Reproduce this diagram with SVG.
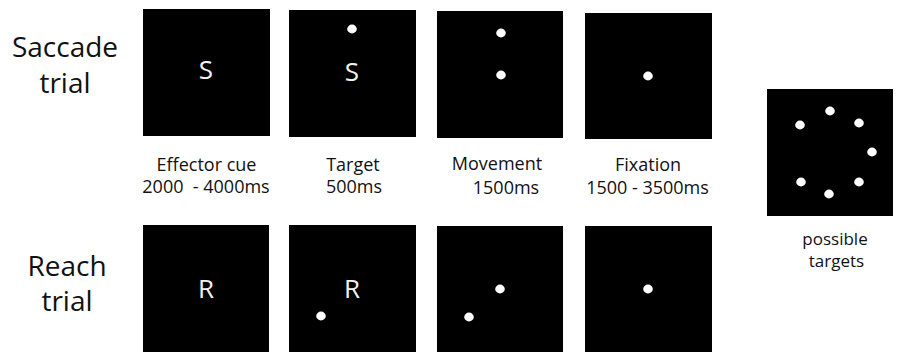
<svg xmlns="http://www.w3.org/2000/svg" width="898" height="352" viewBox="0 0 898 352">
<style>
.bg{fill:#ffffff}
.panel{fill:#000000}
.dot{fill:#ffffff}
.row{font-family:"Open Sans","DejaVu Sans",sans-serif;font-size:28px;fill:#111111;text-anchor:middle}
.lbl{font-family:"Open Sans","DejaVu Sans",sans-serif;font-size:18px;fill:#111111;text-anchor:middle}
.cue{font-family:"Open Sans","DejaVu Sans",sans-serif;font-size:26px;fill:#f2f2f2;text-anchor:middle}
.small{font-family:"Open Sans","DejaVu Sans",sans-serif;font-size:17px;fill:#111111;text-anchor:middle}
</style>
<rect class="bg" x="0" y="0" width="898" height="352"/>
<g id="row-labels">
<text class="row" x="65" y="57">Saccade</text>
<text class="row" x="65" y="93">trial</text>
<text class="row" x="67" y="276">Reach</text>
<text class="row" x="67" y="311">trial</text>
</g>
<g id="saccade-cue">
<rect class="panel" x="143" y="9" width="127" height="127"/>
<text class="cue" x="206" y="79">S</text>
</g>
<g id="saccade-target">
<rect class="panel" x="289" y="10" width="127" height="127"/>
<text class="cue" x="352" y="81">S</text>
<ellipse class="dot" cx="352" cy="29" rx="4.8" ry="4.4"/>
</g>
<g id="saccade-movement">
<rect class="panel" x="437" y="11" width="126" height="127"/>
<ellipse class="dot" cx="501" cy="33" rx="4.8" ry="4.4"/>
<ellipse class="dot" cx="501" cy="75" rx="4.8" ry="4.4"/>
</g>
<g id="saccade-fixation">
<rect class="panel" x="585" y="13" width="127" height="126"/>
<ellipse class="dot" cx="648" cy="76" rx="4.8" ry="4.4"/>
</g>
<g id="phase-labels">
<text class="lbl" x="206.5" y="171">Effector cue</text>
<text class="lbl" x="206" y="193" xml:space="preserve">2000  - 4000ms</text>
<text class="lbl" x="353" y="171">Target</text>
<text class="lbl" x="354" y="193">500ms</text>
<text class="lbl" x="497" y="170">Movement</text>
<text class="lbl" x="506" y="194">1500ms</text>
<text class="lbl" x="648" y="171">Fixation</text>
<text class="lbl" x="647.5" y="194">1500 - 3500ms</text>
</g>
<g id="reach-cue">
<rect class="panel" x="143" y="225" width="126" height="127"/>
<text class="cue" x="206" y="298">R</text>
</g>
<g id="reach-target">
<rect class="panel" x="289" y="225" width="127" height="127"/>
<text class="cue" x="352" y="298">R</text>
<ellipse class="dot" cx="321" cy="316" rx="4.8" ry="4.4"/>
</g>
<g id="reach-movement">
<rect class="panel" x="437" y="226" width="126" height="126"/>
<ellipse class="dot" cx="500" cy="289" rx="4.8" ry="4.4"/>
<ellipse class="dot" cx="469" cy="317" rx="4.8" ry="4.4"/>
</g>
<g id="reach-fixation">
<rect class="panel" x="585" y="226" width="127" height="126"/>
<ellipse class="dot" cx="648" cy="289" rx="4.8" ry="4.4"/>
</g>
<g id="possible-targets">
<rect class="panel" x="767" y="89" width="126" height="127"/>
<ellipse class="dot" cx="830" cy="111" rx="4.8" ry="4.4"/>
<ellipse class="dot" cx="800" cy="125" rx="4.8" ry="4.4"/>
<ellipse class="dot" cx="859" cy="123" rx="4.8" ry="4.4"/>
<ellipse class="dot" cx="872" cy="152" rx="4.8" ry="4.4"/>
<ellipse class="dot" cx="801" cy="182" rx="4.8" ry="4.4"/>
<ellipse class="dot" cx="859" cy="182" rx="4.8" ry="4.4"/>
<ellipse class="dot" cx="829" cy="194" rx="4.8" ry="4.4"/>
<text class="small" x="835" y="245">possible</text>
<text class="small" x="836.5" y="267">targets</text>
</g>
<g id="connectors"/>
</svg>
